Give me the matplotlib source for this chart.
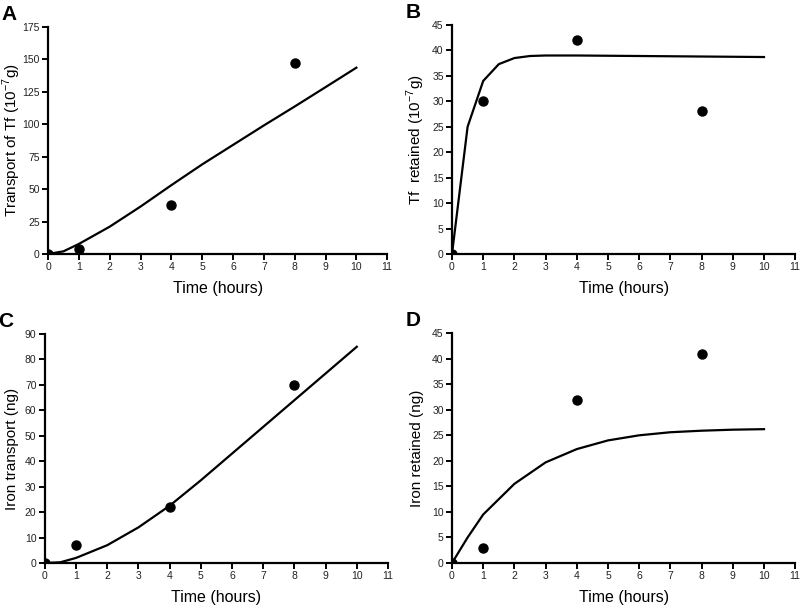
import numpy as np
import matplotlib
matplotlib.use("Agg")
import matplotlib.pyplot as plt

plt.rcParams['font.family'] = ['Liberation Sans', 'DejaVu Sans']
plt.rcParams['axes.unicode_minus'] = False

# measured points
t_pts = [0, 1, 4, 8]
tf_transport = [0, 4, 38, 147]
tf_retained = [0, 30, 42, 28]
fe_transport = [0, 7, 22, 70]
fe_retained = [0, 3, 32, 41]

# model curves
t_fit = [0, 0.5, 1, 2, 3, 4, 5, 6, 7, 8, 9, 10]
tf_transport_fit = [0, 2, 7.7, 21, 36.5, 53, 69, 84, 99, 113.6, 128.5, 143.5]
fe_transport_fit = [0, 0.3, 2, 7, 14, 22.5, 32.5, 43, 53.5, 64, 74.5, 85]
fe_retained_fit = [0, 5, 9.5, 15.5, 19.7, 22.3, 24, 25, 25.6, 25.9, 26.1, 26.2]

t_fit_b = [0, 0.5, 1, 1.5, 2, 2.5, 3, 4, 6, 8, 10]
tf_retained_fit = [0, 25, 34, 37.3, 38.5, 38.9, 39, 39, 38.9, 38.8, 38.7]

panels = [
    ('A', [0.06, 0.583, 0.424, 0.373], t_fit, tf_transport_fit, tf_transport,
     'Transport of Tf (10$^{\\mathregular{-7}}$g)', 175, 25, -0.073),
    ('B', [0.565, 0.583, 0.429, 0.376], t_fit_b, tf_retained_fit, tf_retained,
     'Tf  retained (10$^{\\mathregular{-7}}$g)', 45, 5, -0.072),
    ('C', [0.056, 0.0755, 0.429, 0.376], t_fit, fe_transport_fit, fe_transport,
     'Iron transport (ng)', 90, 10, -0.075),
    ('D', [0.565, 0.0755, 0.429, 0.3775], t_fit, fe_retained_fit, fe_retained,
     'Iron retained (ng)', 45, 5, -0.082),
]

fig = plt.figure(figsize=(8, 6.09), dpi=100)
for letter, rect, tx, fit, pts, ylab, ymax, ystep, labx in panels:
    ax = fig.add_axes(rect)
    ax.plot(tx, fit, color='black', lw=1.6, solid_joinstyle='miter')
    ax.plot(t_pts, pts, 'o', color='black', ms=6.5)
    ax.set_xlim(0, 11)
    ax.set_ylim(0, ymax)
    ax.set_xticks(range(0, 12))
    ax.set_yticks(np.arange(0, ymax + 1, ystep))
    for s in ['top', 'right']:
        ax.spines[s].set_visible(False)
    for s in ['left', 'bottom']:
        ax.spines[s].set_linewidth(1.6)
    ax.tick_params(direction='out', length=4, width=1.4, labelsize=7.5,
                   labelcolor='#222222', pad=2)
    ax.set_xlabel('Time (hours)', fontsize=11.5, labelpad=6)
    ax.set_ylabel(ylab, fontsize=11)
    ax.yaxis.set_label_coords(labx, 0.5)
    fig.text(rect[0] - 0.058, rect[1] + rect[3] + 0.036, letter,
             fontsize=15, fontweight='bold', va='top', ha='left')

fig.savefig('out.png', dpi=100)
